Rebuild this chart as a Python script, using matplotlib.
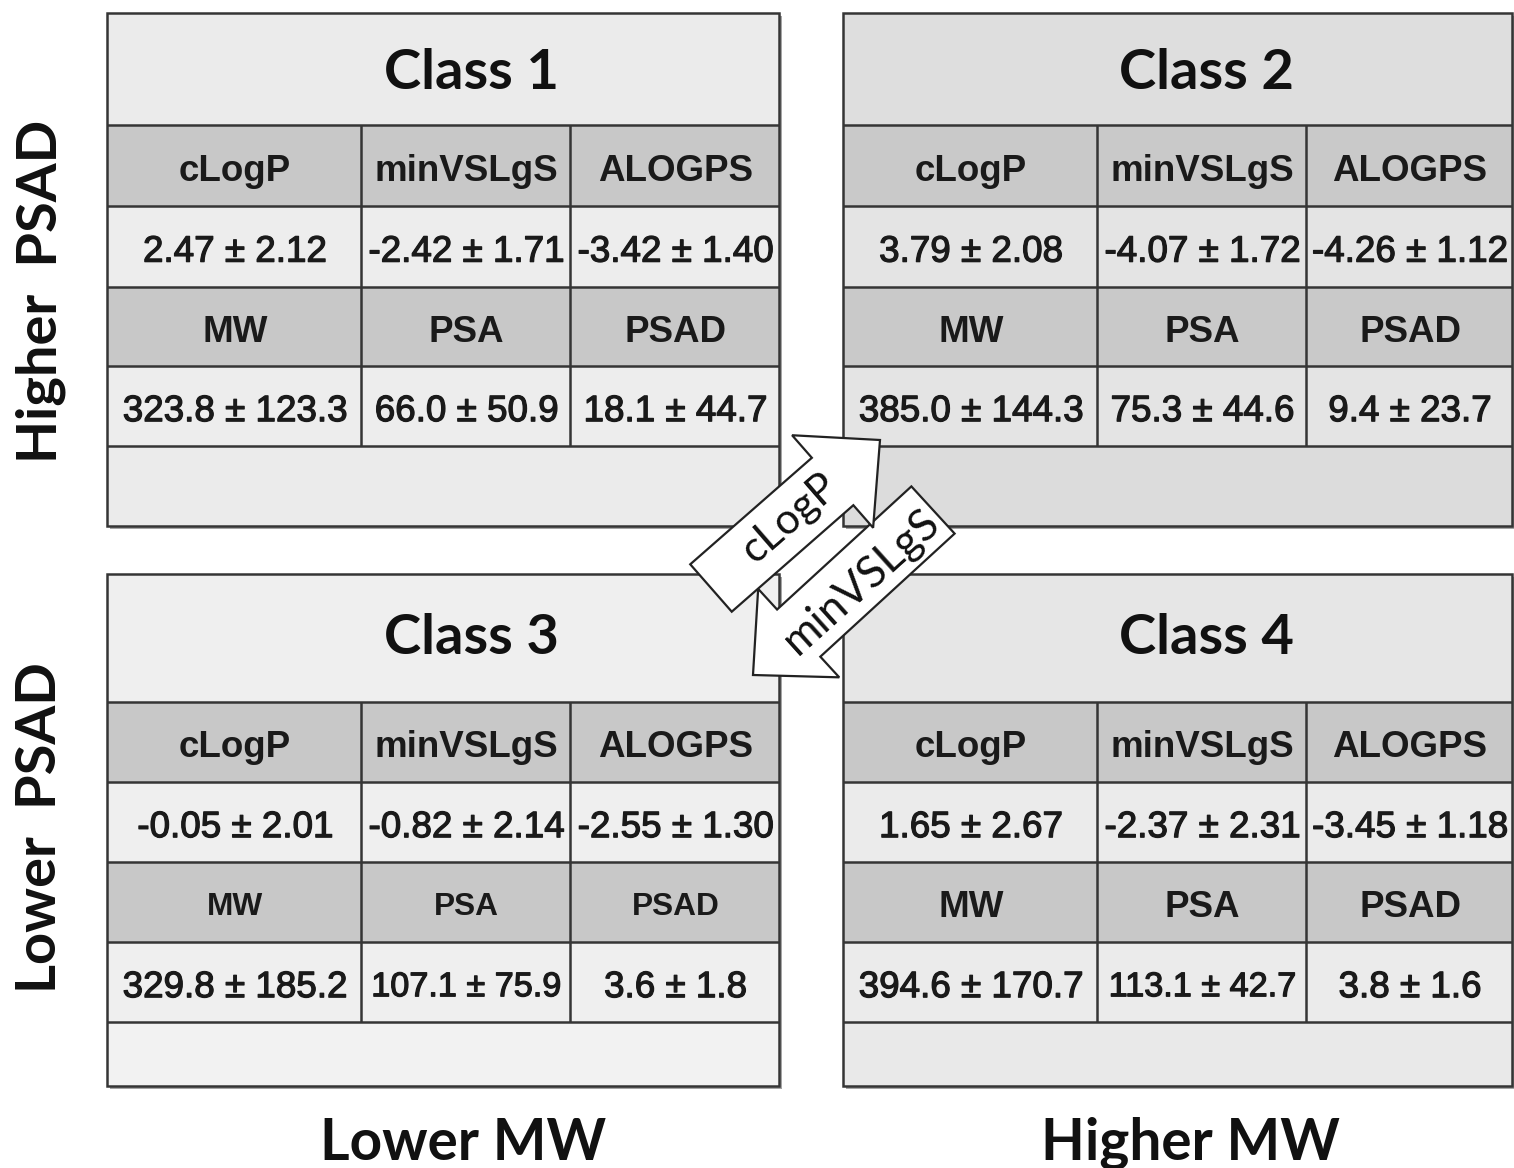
import matplotlib
matplotlib.use('Agg')
import matplotlib.pyplot as plt
import matplotlib.patheffects as pe
from matplotlib.patches import Rectangle, FancyArrow

# ---------------- data ----------------
classes = ['Class 1', 'Class 2', 'Class 3', 'Class 4']
row1_headers = ['cLogP', 'minVSLgS', 'ALOGPS']
row2_headers = ['MW', 'PSA', 'PSAD']
clogp_mean = [2.47, 3.79, -0.05, 1.65]
clogp_sd = [2.12, 2.08, 2.01, 2.67]
minvslgs_mean = [-2.42, -4.07, -0.82, -2.37]
minvslgs_sd = [1.71, 1.72, 2.14, 2.31]
alogps_mean = [-3.42, -4.26, -2.55, -3.45]
alogps_sd = [1.40, 1.12, 1.30, 1.18]
mw_mean = [323.8, 385.0, 329.8, 394.6]
mw_sd = [123.3, 144.3, 185.2, 170.7]
psa_mean = [66.0, 75.3, 107.1, 113.1]
psa_sd = [50.9, 44.6, 75.9, 42.7]
psad_mean = [18.1, 9.4, 3.6, 3.8]
psad_sd = [44.7, 23.7, 1.8, 1.6]
row_labels = ['Higher  PSAD', 'Lower  PSAD']
col_labels = ['Lower MW', 'Higher MW']
arrow_labels = ['cLogP', 'minVSLgS']

# ---------------- layout / style ----------------
W, H = 1514, 1168
fig = plt.figure(figsize=(W / 100, H / 100), dpi=100)
ax = fig.add_axes([0, 0, 1, 1])
ax.set_xlim(0, W)
ax.set_ylim(H, 0)
ax.axis('off')
renderer = fig.canvas.get_renderer()

def size_for(txt, target_px, family, weight):
    t = ax.text(0, 0, txt, fontsize=100, family=family, weight=weight)
    w = t.get_window_extent(renderer).width
    t.remove()
    return 100 * target_px / w

panels = [  # x0, x1, row boundaries
    (107, 779, [13, 125, 206, 287, 366, 446, 526]),
    (843, 1512, [13, 125, 206, 287, 366, 446, 526]),
    (107, 779, [574, 702, 782, 862, 942, 1022, 1086]),
    (843, 1512, [574, 702, 782, 862, 942, 1022, 1086]),
]
panel_colors = [  # title, header, value, empty
    ('#ebebeb', '#c8c8c8', '#ededed', '#ebebeb'),
    ('#dedede', '#c9c9c9', '#e4e4e4', '#dcdcdc'),
    ('#efefef', '#c8c8c8', '#efefef', '#f2f2f2'),
    ('#e6e6e6', '#c8c8c8', '#ebebeb', '#e9e9e9'),
]
# font scaling for the second header/value rows (class 3/4 slightly smaller)
row3_scale = [1.0, 1.0, 0.86, 1.0]
row4_scale = [[1, 1, 1], [1, 1, 1], [1, 0.93, 1], [1, 0.93, 1]]
line_c = '#353535'
lw = 1.8
tfam = 'Liberation Sans'
tsize = 26.5
title_fam = 'Lato'
thicken = [pe.withStroke(linewidth=0.9, foreground='#1a1a1a')]

title_size = size_for('Class 1', 175, title_fam, 'bold')

for i in range(4):
    x0, x1, ys = panels[i]
    cols = [x0, x0 + 254, x0 + 463, x1]
    ct, ch, cv, ce = panel_colors[i]
    # shadow
    ax.add_patch(Rectangle((x0 + 3, ys[0] + 3), x1 - x0, ys[-1] - ys[0],
                           facecolor='#a5a5a5', edgecolor='none', zorder=1))
    fills = [ct, ch, cv, ch, cv, ce]
    for r in range(6):
        ax.add_patch(Rectangle((x0, ys[r]), x1 - x0, ys[r + 1] - ys[r],
                               facecolor=fills[r], edgecolor='none', zorder=2))
    for r in range(1, 6):
        ax.plot([x0, x1], [ys[r], ys[r]], color=line_c, lw=lw, zorder=3,
                solid_capstyle='butt')
    for c in (1, 2):
        ax.plot([cols[c], cols[c]], [ys[1], ys[5]], color=line_c, lw=lw,
                zorder=3, solid_capstyle='butt')
    ax.add_patch(Rectangle((x0, ys[0]), x1 - x0, ys[-1] - ys[0],
                           facecolor='none', edgecolor=line_c, lw=lw, zorder=4))
    # title
    cap = 0.72 * title_size * 100 / 72
    ax.text(x0 + 0.543 * (x1 - x0), (ys[0] + ys[1]) / 2 + cap / 2 - (4 if i >= 2 else 0),
            classes[i], family=title_fam, weight='bold', fontsize=title_size,
            ha='center', va='baseline', color='#111111', zorder=5)
    # table texts
    vals1 = [f'{clogp_mean[i]:.2f} ± {clogp_sd[i]:.2f}',
             f'{minvslgs_mean[i]:.2f} ± {minvslgs_sd[i]:.2f}',
             f'{alogps_mean[i]:.2f} ± {alogps_sd[i]:.2f}']
    vals2 = [f'{mw_mean[i]:.1f} ± {mw_sd[i]:.1f}',
             f'{psa_mean[i]:.1f} ± {psa_sd[i]:.1f}',
             f'{psad_mean[i]:.1f} ± {psad_sd[i]:.1f}']
    rows = [(row1_headers, 'bold', [1, 1, 1], None),
            (vals1, 'normal', [1, 1, 1], thicken),
            (row2_headers, 'bold', [row3_scale[i]] * 3, None),
            (vals2, 'normal', row4_scale[i], thicken)]
    for r, (txts, wt, scl, eff) in enumerate(rows):
        yc = (ys[r + 1] + ys[r + 2]) / 2
        for c in range(3):
            fs = tsize * scl[c]
            capt = 0.716 * fs * 100 / 72
            t = ax.text((cols[c] + cols[c + 1]) / 2 + 1, yc + capt / 2 + 2, txts[c],
                        family=tfam, weight=wt, fontsize=fs, ha='center',
                        va='baseline', color='#1a1a1a', zorder=5)
            if eff:
                t.set_path_effects(eff)

# axis-style labels
lab_size = size_for(col_labels[0], 286, title_fam, 'bold')
for txt, xc in zip(col_labels, [463, 1190]):
    ax.text(xc, 1160, txt, family=title_fam, weight='bold', fontsize=lab_size,
            ha='center', va='baseline', color='#111111')
rl_size = size_for(row_labels[0], 343, title_fam, 'bold')
for txt, yc in zip(row_labels, [291, 828]):
    ax.text(56, yc, txt, family=title_fam, weight='bold', fontsize=rl_size,
            rotation=90, rotation_mode='anchor', ha='center', va='baseline',
            color='#111111')

# arrows
arrows = [  # tail (x, y), tip (x, y), width, head width, head length
    ((933, 510), (753, 675), 64, 120, 62),
    ((711, 588), (880, 440), 63, 123, 63),
]
for (tx, ty), (hx, hy), aw, hw, hl in arrows:
    ax.add_patch(FancyArrow(tx, ty, hx - tx, hy - ty, width=aw, head_width=hw,
                            head_length=hl, length_includes_head=True,
                            facecolor='white', edgecolor='#222222', lw=1.6,
                            zorder=6))
a1 = size_for(arrow_labels[0], 114, title_fam, 'normal')
a2 = size_for(arrow_labels[1], 195, title_fam, 'normal')
ax.text(790, 518, arrow_labels[0], family=title_fam, fontsize=a1, rotation=41,
        rotation_mode='anchor', ha='center', va='center', color='#111111', zorder=7)
ax.text(862, 582, arrow_labels[1], family=title_fam, fontsize=a2, rotation=42,
        rotation_mode='anchor', ha='center', va='center', color='#111111', zorder=7)

fig.savefig('out.png', dpi=100, facecolor='white')
